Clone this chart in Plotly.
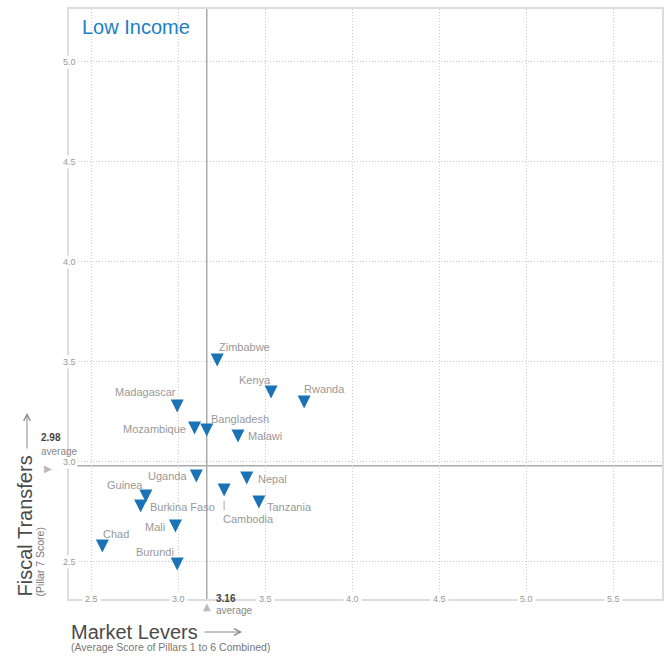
import plotly.graph_objects as go

# ---- data ----
countries = ["Zimbabwe", "Kenya", "Rwanda", "Madagascar", "Mozambique", "Bangladesh",
             "Malawi", "Uganda", "Nepal", "Cambodia", "Tanzania", "Guinea",
             "Burkina Faso", "Mali", "Chad", "Burundi"]
market_levers = [3.22, 3.53, 3.72, 2.99, 3.09, 3.16, 3.34, 3.10, 3.39, 3.26, 3.46, 2.81,
                 2.78, 2.98, 2.56, 2.99]
fiscal_transfers = [3.52, 3.36, 3.31, 3.29, 3.18, 3.17, 3.14, 2.94, 2.93, 2.87, 2.81, 2.84,
                    2.79, 2.69, 2.59, 2.50]
avg_x = 3.16
avg_y = 2.98
x_ticks = [2.5, 3.0, 3.5, 4.0, 4.5, 5.0, 5.5]
y_ticks = [2.5, 3.0, 3.5, 4.0, 4.5, 5.0]
title_text = "Low Income"

# ---- label placement (style) ----
label_pos = {
    "Zimbabwe": ("left", 0, 11),
    "Kenya": ("right", 2, 10),
    "Rwanda": ("left", -2, 11),
    "Madagascar": ("right", 1, 12),
    "Mozambique": ("right", -7, -3),
    "Bangladesh": ("left", 2, 9),
    "Malawi": ("left", 8, -2),
    "Uganda": ("right", -7, -2.5),
    "Nepal": ("left", 9, -3.5),
    "Cambodia": ("left", -3, -31.5),
    "Tanzania": ("left", 6, -7.5),
    "Guinea": ("right", -1, 9),
    "Burkina Faso": ("left", 7, -3.5),
    "Mali": ("right", -8, -3.5),
    "Chad": ("left", -1, 10),
    "Burundi": ("right", -1, 10),
}

FONT = "Liberation Sans, Arial, Helvetica, sans-serif"
BLUE = "#1b72b5"
LABEL_GRAY = "#999999"
MSIZE = 13

fig = go.Figure()
fig.add_trace(go.Scatter(
    x=market_levers, y=fiscal_transfers, mode="markers", text=countries,
    hoverinfo="text",
    marker=dict(symbol="arrow-down", size=MSIZE, color=BLUE, standoff=MSIZE * 2 / 3,
                line=dict(color=BLUE, width=0)),
    showlegend=False,
))

annotations = []
for name, xv, yv in zip(countries, market_levers, fiscal_transfers):
    anchor, dx, dy = label_pos[name]
    annotations.append(dict(
        x=xv, y=yv, xref="x", yref="y", text=name, showarrow=False,
        xanchor=anchor, yanchor="middle", xshift=dx, yshift=dy,
        font=dict(family=FONT, size=11, color=LABEL_GRAY),
    ))

# Cambodia leader line
cam = countries.index("Cambodia")
annotations.append(dict(
    x=market_levers[cam], y=fiscal_transfers[cam], xref="x", yref="y", text="",
    showarrow=True, arrowhead=0, arrowwidth=1, arrowcolor="#aaaaaa",
    ax=0, ay=24, standoff=13,
))

# tick labels (white background so they interrupt the axis lines)
for t in y_ticks:
    annotations.append(dict(
        x=0, y=t, xref="paper", yref="y", text=f"{t:.1f}", showarrow=False,
        xanchor="center", yanchor="middle", bgcolor="white", borderpad=1,
        font=dict(family=FONT, size=9, color="#999999"),
    ))
for t in x_ticks:
    annotations.append(dict(
        x=t, y=0, xref="x", yref="paper", text=f"{t:.1f}", showarrow=False,
        xanchor="center", yanchor="middle", bgcolor="white", borderpad=2,
        font=dict(family=FONT, size=9, color="#999999"),
    ))

# averages
annotations += [
    dict(x=0, y=avg_y, xref="paper", yref="y", text=f"<b>{avg_y:.2f}</b>", showarrow=False,
         xanchor="left", yanchor="middle", xshift=-30, yshift=28,
         font=dict(family=FONT, size=10, color="#444444")),
    dict(x=0, y=avg_y, xref="paper", yref="y", text="average", showarrow=False,
         xanchor="left", yanchor="middle", xshift=-30, yshift=14,
         font=dict(family=FONT, size=10, color="#888888")),
    dict(x=0, y=avg_y, xref="paper", yref="y", text="▶", showarrow=False,
         xanchor="center", yanchor="middle", xshift=-21, yshift=-3,
         font=dict(family="DejaVu Sans", size=10, color="#bbbbbb")),
    dict(x=avg_x, y=0, xref="x", yref="paper", text=f"<b>{avg_x:.2f}</b>", showarrow=False,
         xanchor="left", yanchor="middle", xshift=7, yshift=1,
         font=dict(family=FONT, size=10, color="#444444")),
    dict(x=avg_x, y=0, xref="x", yref="paper", text="average", showarrow=False,
         xanchor="left", yanchor="middle", xshift=7, yshift=-11,
         font=dict(family=FONT, size=10, color="#888888")),
    dict(x=avg_x, y=0, xref="x", yref="paper", text="▲", showarrow=False,
         xanchor="center", yanchor="middle", xshift=0, yshift=-7,
         font=dict(family="DejaVu Sans", size=10, color="#bbbbbb")),
]

# title
annotations.append(dict(
    x=0, y=1, xref="paper", yref="paper", text=title_text, showarrow=False,
    xanchor="left", yanchor="middle", xshift=11, yshift=-18,
    font=dict(family=FONT, size=20, color="#1b7fc3"),
))

# axis titles
annotations += [
    dict(x=0, y=0, xref="paper", yref="paper", text="Market Levers", showarrow=False,
         xanchor="left", yanchor="middle", xshift=0, yshift=-33,
         font=dict(family=FONT, size=20, color="#4a4a4a")),
    dict(x=0, y=0, xref="paper", yref="paper", text="", showarrow=True,
         arrowhead=5, arrowsize=1.3, arrowwidth=1, arrowcolor="#888888",
         ax=-39, ay=0, xshift=173, yshift=-33),
    dict(x=0, y=0, xref="paper", yref="paper",
         text="(Average Score of Pillars 1 to 6 Combined)", showarrow=False,
         xanchor="left", yanchor="middle", xshift=0, yshift=-48,
         font=dict(family=FONT, size=10.5, color="#777777")),
    dict(x=0, y=0, xref="paper", yref="paper", text="Fiscal Transfers", showarrow=False,
         textangle=-90, xanchor="center", yanchor="bottom", xshift=-45, yshift=0,
         font=dict(family=FONT, size=20, color="#4a4a4a")),
    dict(x=0, y=0, xref="paper", yref="paper", text="", showarrow=True,
         arrowhead=5, arrowsize=1.3, arrowwidth=1, arrowcolor="#888888",
         ax=0, ay=37, xshift=-42, yshift=186),
    dict(x=0, y=0, xref="paper", yref="paper", text="(Pillar 7 Score)", showarrow=False,
         textangle=-90, xanchor="center", yanchor="bottom", xshift=-30, yshift=0,
         font=dict(family=FONT, size=10.5, color="#777777")),
]

shapes = [
    dict(type="line", xref="x", yref="paper", x0=avg_x, x1=avg_x, y0=0, y1=1,
         line=dict(color="#aaaaaa", width=1.5), layer="below"),
    dict(type="line", xref="paper", yref="y", x0=0, x1=1, y0=avg_y, y1=avg_y,
         line=dict(color="#aaaaaa", width=1.5), layer="below"),
]

fig.update_layout(
    width=672, height=657,
    margin=dict(l=69, r=10, t=7, b=58),
    paper_bgcolor="white", plot_bgcolor="white",
    annotations=annotations, shapes=shapes,
    font=dict(family=FONT),
    xaxis=dict(range=[2.368, 5.778], tickvals=x_ticks, showticklabels=False,
               showgrid=True, gridcolor="#cccccc", griddash="1px,2px", gridwidth=1,
               zeroline=False, showline=True, mirror=True, linecolor="#dddddd",
               linewidth=2, ticks=""),
    yaxis=dict(range=[2.314, 5.264], tickvals=y_ticks, showticklabels=False,
               showgrid=True, gridcolor="#cccccc", griddash="1px,2px", gridwidth=1,
               zeroline=False, showline=True, mirror=True, linecolor="#dddddd",
               linewidth=2, ticks=""),
)

fig.write_html("out.html", config={"displayModeBar": False},
               post_script="document.body.style.margin='0';")
